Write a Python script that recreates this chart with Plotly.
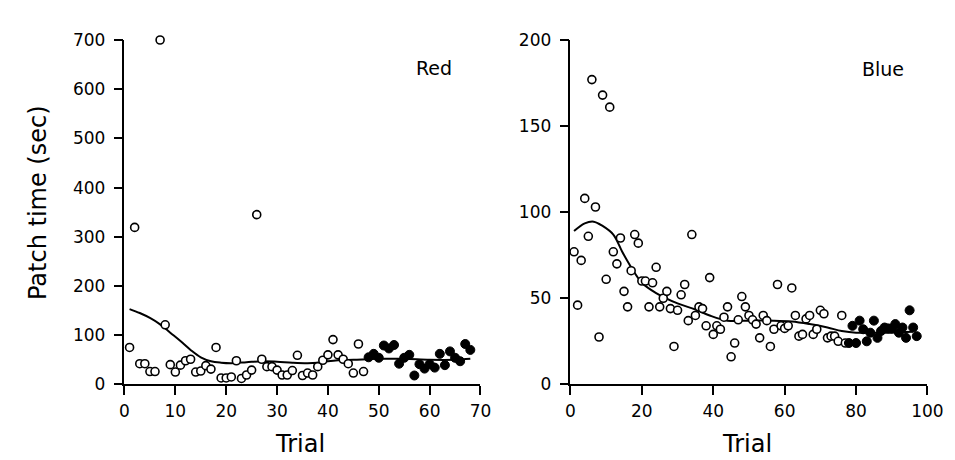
import plotly.graph_objects as go

# ---------------- Red (left panel) ----------------
red_trials = list(range(1, 69))
red_times = [75, 319, 42, 42, 26, 26, 700, 121, 40, 25,
             39, 48, 51, 25, 27, 38, 31, 75, 13, 13,
             15, 48, 12, 19, 29, 345, 51, 36, 36, 29,
             19, 19, 28, 59, 18, 23, 19, 36, 49, 60,
             91, 60, 51, 42, 23, 82, 26, 55, 62, 54,
             79, 73, 80, 42, 54, 60, 18, 41, 32, 41,
             34, 62, 39, 67, 54, 47, 82, 70]
red_filled_from = 48

red_fit_x = [1, 3, 5, 7, 9, 11, 13, 15, 17, 19, 21, 24, 27, 30, 33, 36, 38, 40, 42, 45, 50, 55, 60, 65, 68]
red_fit_y = [153, 145, 135, 122, 105, 88, 70, 55, 47, 44, 43, 45, 47, 46, 44, 43, 44, 47, 49, 50, 52, 52, 50, 50, 52]

# ---------------- Blue (right panel) ----------------
blue_trials = list(range(1, 98))
blue_times = [77, 46, 72, 108, 86, 177, 103, 27.5, 168, 61,
              161, 77, 70, 85, 54, 45, 66, 87, 82, 60,
              60, 45, 59, 68, 45, 50, 54, 44, 22, 43,
              52, 58, 37, 87, 40, 45, 44, 34, 62, 29,
              34, 32, 39, 45, 16, 24, 37.5, 51, 45, 40,
              37.5, 35, 27, 40, 37, 22, 32, 58, 34, 32.5,
              34, 56, 40, 28, 29, 38, 40, 29, 32, 43,
              41, 27, 28, 28, 25, 40, 24, 24, 34, 24,
              37, 32, 25, 30, 37, 27, 31, 33, 32.5, 32.5,
              35, 30, 33, 27, 43, 33, 28]
blue_filled_from = 78

blue_fit_x = [1, 4, 6.5, 9, 12, 14.5, 17, 20, 24, 30, 35, 39, 44, 50, 57, 62, 67, 72, 76, 80, 85, 90, 96]
blue_fit_y = [89, 93.5, 94.5, 92, 87, 77, 68, 59, 53, 47, 43.5, 40, 37, 37, 37, 36.5, 35, 33, 31, 30, 30, 30, 30.5]

# tick values
red_xticks = [0, 10, 20, 30, 40, 50, 60, 70]
red_yticks = [0, 100, 200, 300, 400, 500, 600, 700]
blue_xticks = [0, 20, 40, 60, 80, 100]
blue_yticks = [0, 50, 100, 150, 200]

FONT = "DejaVu Sans"
fig = go.Figure()


def add_panel(trials, times, filled_from, fx, fy, xa, ya):
    open_x = [t for t in trials if t < filled_from]
    open_y = [v for t, v in zip(trials, times) if t < filled_from]
    fill_x = [t for t in trials if t >= filled_from]
    fill_y = [v for t, v in zip(trials, times) if t >= filled_from]
    fig.add_trace(go.Scatter(x=fx, y=fy, mode="lines", xaxis=xa, yaxis=ya,
                             line=dict(color="black", width=2, shape="spline", smoothing=1.0),
                             showlegend=False, hoverinfo="skip"))
    fig.add_trace(go.Scatter(x=open_x, y=open_y, mode="markers", xaxis=xa, yaxis=ya,
                             marker=dict(symbol="circle", size=8, color="white",
                                         line=dict(color="black", width=1.6)),
                             cliponaxis=False, showlegend=False))
    fig.add_trace(go.Scatter(x=fill_x, y=fill_y, mode="markers", xaxis=xa, yaxis=ya,
                             marker=dict(symbol="circle", size=9, color="black",
                                         line=dict(color="black", width=1)),
                             cliponaxis=False, showlegend=False))


add_panel(red_trials, red_times, red_filled_from, red_fit_x, red_fit_y, "x", "y")
add_panel(blue_trials, blue_times, blue_filled_from, blue_fit_x, blue_fit_y, "x2", "y2")

W, H = 955, 460
ax_common = dict(showline=True, linecolor="black", linewidth=1.5, ticks="outside",
                 ticklen=9, tickwidth=1.5, tickcolor="black", showgrid=False,
                 zeroline=False, tickfont=dict(family=FONT, size=17, color="black"))

fig.update_layout(
    width=W, height=H,
    margin=dict(l=0, r=0, t=0, b=0),
    paper_bgcolor="white", plot_bgcolor="white",
    xaxis=dict(domain=[114 / W, 478 / W], range=[0, 70], tickvals=red_xticks,
               anchor="y", ticklabelstandoff=2, **ax_common),
    yaxis=dict(domain=[1 - 383 / H, 1 - 23 / H], range=[0, 700], tickvals=red_yticks,
               anchor="x", ticklabelstandoff=5, **ax_common),
    xaxis2=dict(domain=[570 / W, 935 / W], range=[0, 100], tickvals=blue_xticks,
                anchor="y2", ticklabelstandoff=2, **ax_common),
    yaxis2=dict(domain=[1 - 383 / H, 1 - 23 / H], range=[0, 200], tickvals=blue_yticks,
                anchor="x2", ticklabelstandoff=5, **ax_common),
    annotations=[
        dict(text="Patch time (sec)", x=25 / W, y=1 - 193 / H, xref="paper", yref="paper",
             textangle=-90, showarrow=False, font=dict(family=FONT, size=24, color="black"),
             xanchor="center", yanchor="middle"),
        dict(text="Trial", x=293 / W, y=1 - 445 / H, xref="paper", yref="paper",
             showarrow=False, font=dict(family=FONT, size=24, color="black"),
             xanchor="center", yanchor="middle"),
        dict(text="Trial", x=751 / W, y=1 - 445 / H, xref="paper", yref="paper",
             showarrow=False, font=dict(family=FONT, size=24, color="black"),
             xanchor="center", yanchor="middle"),
        dict(text="Red", x=430 / W, y=1 - 52 / H, xref="paper", yref="paper",
             showarrow=False, font=dict(family=FONT, size=19, color="black"),
             xanchor="center", yanchor="middle"),
        dict(text="Blue", x=890 / W, y=1 - 53 / H, xref="paper", yref="paper",
             showarrow=False, font=dict(family=FONT, size=19, color="black"),
             xanchor="center", yanchor="middle"),
    ],
)

fig.write_html("out.html")
